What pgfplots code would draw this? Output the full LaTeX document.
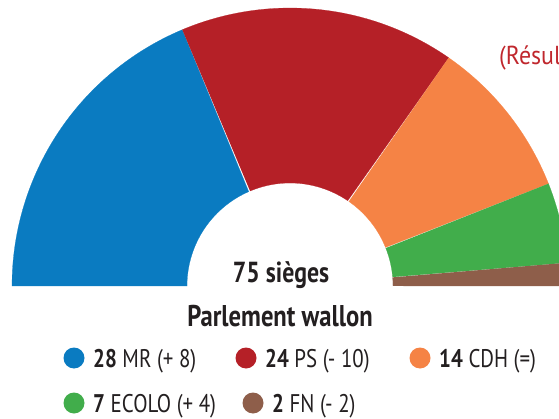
\documentclass[border=0pt]{standalone}
\usepackage{pgfplots}
\pgfplotsset{compat=1.18}
\usepackage{fontspec}
\setmainfont{PT Sans}[FakeStretch=0.82]
\newfontfamily\titlefont{PT Sans}[FakeStretch=0.92]
\definecolor{mrblue}{HTML}{0A7BC1}
\definecolor{psred}{HTML}{B52027}
\definecolor{cdhorange}{HTML}{F58345}
\definecolor{ecogreen}{HTML}{41AD4B}
\definecolor{fnbrown}{HTML}{8E5E4A}
\definecolor{titlered}{HTML}{C0272D}
\definecolor{txt}{HTML}{231F20}
% wedge from cumulative seat #1 to #2 (of 75), colour #3
\newcommand{\seg}[3]{%
  \addplot[fill=#3, draw=#3, line width=0.2pt, variable=\t, domain=0:2, samples=161]
  ({290+((\t<=1)?278:103)*cos(180-2.4*((\t<=1)?(#1+(#2-#1)*\t):(#2-(#2-#1)*(\t-1))))},
   {132+((\t<=1)?278:103)*sin(180-2.4*((\t<=1)?(#1+(#2-#1)*\t):(#2-(#2-#1)*(\t-1))))});
}
\newcommand{\legitem}[4]{% x of circle, baseline y, colour, text
  \node[circle, fill=#3, minimum size=21pt, inner sep=0pt] at (axis cs:#1,#2+9) {};
  \node[anchor=base west, font=\fontsize{25.5}{28}\selectfont, text=txt, inner sep=0pt] at (axis cs:#1+19,#2) {#4};
}
\begin{document}
\begin{tikzpicture}
\begin{axis}[scale only axis, width=559pt, height=418pt,
  xmin=0, xmax=559, ymin=0, ymax=418, axis lines=none, clip=true]
% seats: MR 28, PS 24, CDH 14, ECOLO 7, FN 2 (total 75)
\seg{0}{28}{mrblue}
\seg{28}{52}{psred}
\seg{52}{66}{cdhorange}
\seg{66}{73}{ecogreen}
\seg{73}{75}{fnbrown}
\node[anchor=base, font=\fontsize{29}{32}\selectfont\bfseries, text=txt] at (axis cs:281,136) {75 sièges};
\node[anchor=base, font=\fontsize{30}{32}\selectfont\bfseries, text=txt] at (axis cs:280,92) {Parlement wallon};
\node[anchor=base west, font=\titlefont\fontsize{26}{28}\selectfont, text=titlered, inner sep=0pt] at (axis cs:499,353) {(Résultats)};
% legend
\legitem{74}{51}{mrblue}{\textbf{28} MR (+ 8)}
\legitem{246}{51}{psred}{\textbf{24} PS (- 10)}
\legitem{420}{51}{cdhorange}{\textbf{14} CDH (=)}
\legitem{74}{6}{ecogreen}{\textbf{7} ECOLO (+ 4)}
\legitem{253}{6}{fnbrown}{\textbf{2} FN (- 2)}
\end{axis}
\pgfresetboundingbox
\useasboundingbox (current axis.south west) rectangle (current axis.north east);
\end{tikzpicture}
\end{document}
